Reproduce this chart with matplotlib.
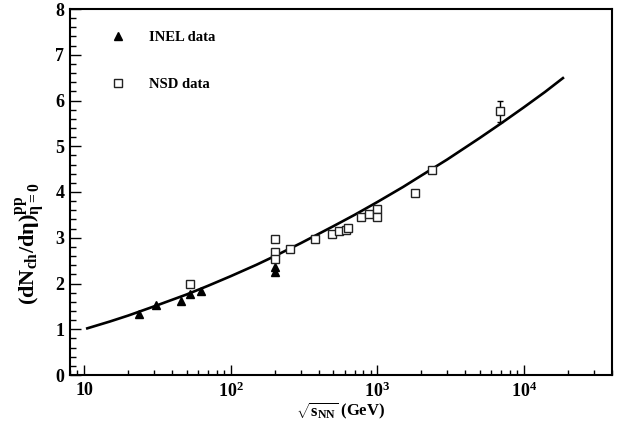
import matplotlib
matplotlib.use("Agg")
import matplotlib.pyplot as plt
from matplotlib.ticker import FixedLocator, LogLocator, FuncFormatter, MultipleLocator, NullFormatter

plt.rcParams['font.family'] = ['Liberation Serif', 'DejaVu Serif']
plt.rcParams['font.weight'] = 'bold'
plt.rcParams['axes.labelweight'] = 'bold'
plt.rcParams['mathtext.fontset'] = 'custom'
plt.rcParams['mathtext.rm'] = 'Liberation Serif:bold'
plt.rcParams['mathtext.it'] = 'Liberation Serif:bold'
plt.rcParams['mathtext.bf'] = 'Liberation Serif:bold'

# data
inel_x = [23.6, 30.8, 45.8, 53, 63, 200, 200]
inel_y = [1.33, 1.53, 1.62, 1.77, 1.84, 2.36, 2.25]

nsd_x = [53, 200, 200, 200, 255, 375, 490, 546, 615, 630, 780, 880, 990, 990, 1800, 2360, 6900]
nsd_y = [2.00, 2.98, 2.69, 2.54, 2.75, 2.97, 3.09, 3.14, 3.17, 3.22, 3.46, 3.52, 3.62, 3.46, 3.98, 4.49, 5.77]
nsd_err = [0, 0, 0, 0, 0, 0, 0, 0, 0, 0, 0, 0, 0, 0, 0, 0, 0.23]

# fitted curve, points
curve_x = [10.5, 15, 20, 30, 50, 70, 100, 150, 200, 300, 500, 700, 1000, 1500,
           2000, 3000, 5000, 7000, 10000, 14000, 18500]
curve_y = [1.02, 1.17, 1.30, 1.50, 1.76, 1.95, 2.16, 2.41, 2.60, 2.88, 3.25, 3.50,
           3.78, 4.11, 4.36, 4.71, 5.18, 5.50, 5.85, 6.19, 6.49]

xticks = [10, 100, 1000, 10000]
xticklabels = ['10', r'$10^2$', r'$10^3$', r'$10^4$']

fig = plt.figure(figsize=(6.2, 4.21), dpi=100)
ax = fig.add_axes([70/620, 1 - 375/421, 542/620, 366/421])

ax.plot(curve_x, curve_y, '-', color='k', linewidth=1.9, zorder=2)
ax.plot(inel_x, inel_y, '^', color='k', markersize=6, linestyle='none',
        label='INEL data', zorder=3)
ax.errorbar(nsd_x, nsd_y, yerr=nsd_err, fmt='none', ecolor='k', elinewidth=1,
            capsize=2, capthick=1, zorder=3)
ax.plot(nsd_x, nsd_y, 's', markerfacecolor='white', markeredgecolor='#222222',
        markeredgewidth=1, markersize=5.5, linestyle='none', label='NSD data', zorder=4)

ax.set_xscale('log')
ax.set_xlim(8, 4e4)
ax.set_ylim(0, 8)

ax.xaxis.set_major_locator(FixedLocator(xticks))
ax.xaxis.set_major_formatter(FuncFormatter(lambda v, p: xticklabels[xticks.index(int(round(v)))] if int(round(v)) in xticks else ''))
ax.xaxis.set_minor_locator(LogLocator(base=10, subs=[2, 3, 4, 5, 6, 7, 8, 9]))
ax.xaxis.set_minor_formatter(NullFormatter())
ax.yaxis.set_major_locator(MultipleLocator(1))
ax.yaxis.set_minor_locator(MultipleLocator(0.2))

ax.tick_params(which='both', direction='in', top=False, right=False, labelsize=13)
ax.tick_params(axis='y', which='major', length=8, width=1, pad=4)
ax.tick_params(axis='y', which='minor', length=4, width=1)
ax.tick_params(axis='x', which='major', length=7, width=1, pad=5)
ax.tick_params(axis='x', which='minor', length=3.5, width=1)
for s in ax.spines.values():
    s.set_linewidth(1.5)

ax.set_xlabel(r'$\sqrt{\mathrm{s_{NN}}}$ (GeV)', fontsize=12, fontweight='bold', va='center')
ax.xaxis.set_label_coords(0.5, -0.098)
ax.set_ylabel(r'$(\mathrm{dN_{ch}/d}\eta)^{\mathrm{pp}}_{\eta=0}$', fontsize=16, va='center')
ax.yaxis.set_label_coords(-0.074, 0.36)

ax.legend(loc='upper left', bbox_to_anchor=(0.075, 0.94), frameon=False,
          fontsize=10.5, handlelength=1, handletextpad=1.6, labelspacing=2.3,
          borderpad=0, borderaxespad=0)

fig.savefig('out.png', dpi=100)
